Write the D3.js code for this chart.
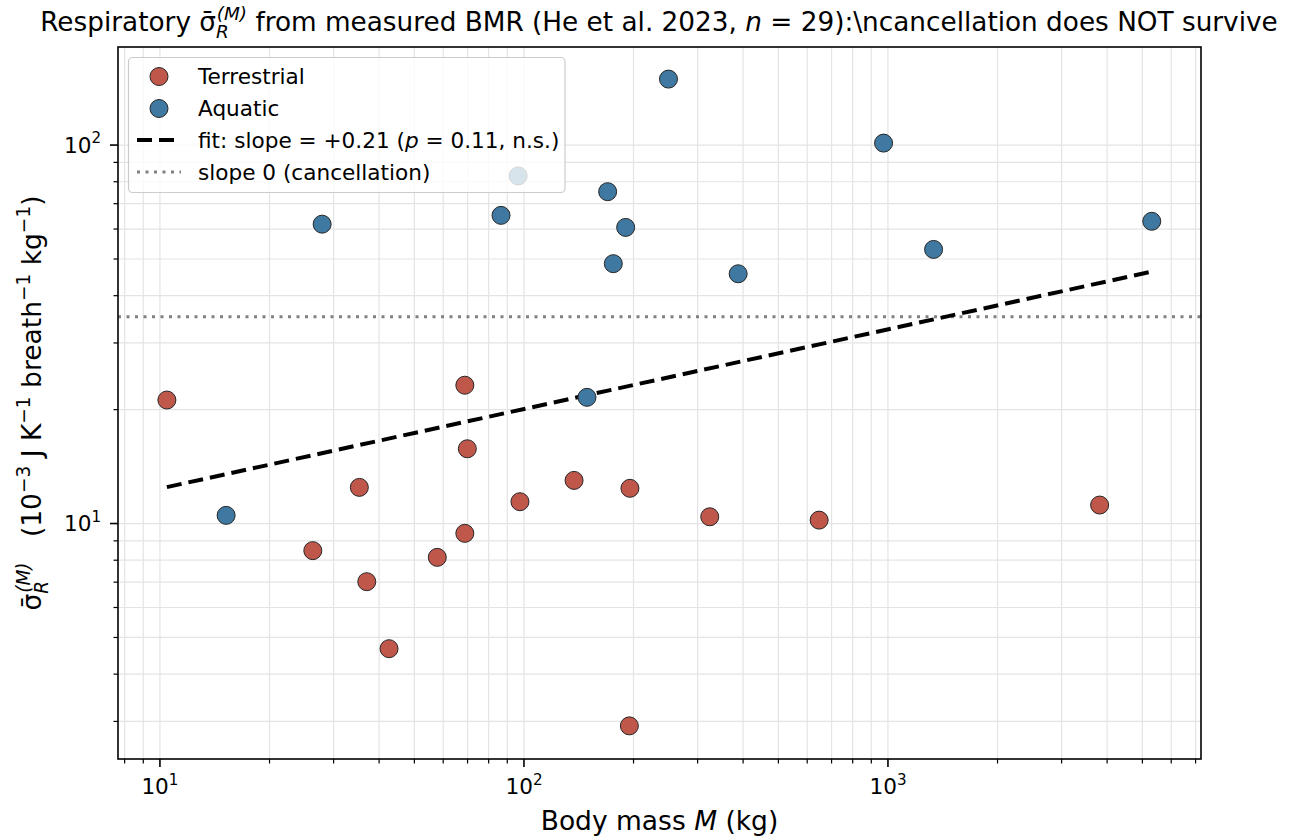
<!DOCTYPE html>
<html>
<head>
<meta charset="utf-8">
<script src="https://cdn.jsdelivr.net/npm/d3@7"></script>
<style>
  body { margin:0; background:#fff; }
  svg { font-family: "DejaVu Sans", sans-serif; }
</style>
</head>
<body>
<svg id="chart" width="1295" height="839"></svg>
<script>
// ---- data ----
var terrMass  = [10.45, 68.8, 69.9, 35.3, 97.5, 26.3, 68.8, 57.8, 37.0, 42.6, 137.3, 195.5, 323.9, 647, 3815, 194.8];
var terrSigma = [21.2, 23.2, 15.76, 12.46, 11.42, 8.48, 9.42, 8.14, 7.02, 4.67, 13.0, 12.39, 10.42, 10.21, 11.19, 2.92];

var aquaMass  = [15.2, 149, 27.9, 86.5, 96.4, 169.8, 176, 190.3, 249.5, 387.7, 972.6, 1334.6, 5305];
var aquaSigma = [10.51, 21.55, 61.8, 65.2, 82.9, 75.3, 48.6, 60.6, 149.4, 45.7, 101.2, 53.0, 62.9];

// fit line end points (log-log, slope +0.21) and slope-0 level
var fitMass  = [10.45, 5305];
var fitSigma = [12.48, 46.3];
var flatSigma = 35.2;

var xMajorTicks = [10, 100, 1000];
var yMajorTicks = [10, 100];

var legendLabels = ['Terrestrial', 'Aquatic'];

var terrColor = '#c0574b';
var aquaColor = '#3f78a0';

// ---- layout ----
var svg = d3.select('#chart');
var pLeft = 118, pRight = 1201, pTop = 47, pBottom = 759;

var x = d3.scaleLog().domain([7.67, 7244]).range([pLeft, pRight]);
var y = d3.scaleLog().domain([2.387, 181.6]).range([pBottom, pTop]);

function isMajor(v){ return Math.abs(Math.log10(v) - Math.round(Math.log10(v))) < 1e-9; }

// grid (both major and minor)
var xAll = x.ticks();
var yAll = y.ticks();

var grid = svg.append('g');
grid.selectAll('.gx').data(xAll).enter().append('line')
  .attr('x1', d=>x(d)).attr('x2', d=>x(d))
  .attr('y1', pTop).attr('y2', pBottom)
  .attr('stroke', '#e4e4e4').attr('stroke-width', 1.2);
grid.selectAll('.gy').data(yAll).enter().append('line')
  .attr('y1', d=>y(d)).attr('y2', d=>y(d))
  .attr('x1', pLeft).attr('x2', pRight)
  .attr('stroke', '#e4e4e4').attr('stroke-width', 1.2);

// slope 0 line
svg.append('line')
  .attr('x1', pLeft).attr('x2', pRight)
  .attr('y1', y(flatSigma)).attr('y2', y(flatSigma))
  .attr('stroke', '#808080').attr('stroke-width', 3)
  .attr('stroke-dasharray', '3,5.5');

// fit line
svg.append('line')
  .attr('x1', x(fitMass[0])).attr('y1', y(fitSigma[0]))
  .attr('x2', x(fitMass[1])).attr('y2', y(fitSigma[1]))
  .attr('stroke', '#000').attr('stroke-width', 4)
  .attr('stroke-dasharray', '15,7');

// points
function drawPoints(mass, sigma, color){
  svg.append('g').selectAll('circle')
    .data(mass.map((m,i)=>({m:m, s:sigma[i]})))
    .enter().append('circle')
    .attr('cx', d=>x(d.m)).attr('cy', d=>y(d.s))
    .attr('r', 9)
    .attr('fill', color)
    .attr('stroke', '#262626').attr('stroke-width', 1);
}
drawPoints(terrMass, terrSigma, terrColor);
drawPoints(aquaMass, aquaSigma, aquaColor);

// frame
svg.append('rect')
  .attr('x', pLeft).attr('y', pTop)
  .attr('width', pRight-pLeft).attr('height', pBottom-pTop)
  .attr('fill', 'none').attr('stroke', '#000').attr('stroke-width', 1.6);

// ticks
var ticks = svg.append('g');
ticks.selectAll('.tx').data(xAll).enter().append('line')
  .attr('x1', d=>x(d)).attr('x2', d=>x(d))
  .attr('y1', pBottom).attr('y2', d=> pBottom + (isMajor(d) ? 8 : 4.5))
  .attr('stroke', '#000').attr('stroke-width', d=> isMajor(d) ? 1.6 : 1.2);
ticks.selectAll('.ty').data(yAll).enter().append('line')
  .attr('y1', d=>y(d)).attr('y2', d=>y(d))
  .attr('x1', pLeft).attr('x2', d=> pLeft - (isMajor(d) ? 8 : 4.5))
  .attr('stroke', '#000').attr('stroke-width', d=> isMajor(d) ? 1.6 : 1.2);

// rich text helper: segments with sub / sup / italic
function rich(sel, segs, base){
  var cur = 0;
  segs.forEach(function(s){
    var shift = s.sub ? 0.28*base : (s.sup ? -0.42*base : 0);
    var t = sel.append('tspan').text(s.t)
      .attr('dy', shift - cur)
      .attr('font-size', (s.sub || s.sup) ? base*0.7 : base);
    if (s.it) t.attr('font-style', 'italic');
    if (s.dx) t.attr('dx', s.dx);
    cur = shift;
  });
}

var tickSize = 21.6;
xMajorTicks.forEach(function(v){
  var t = svg.append('text')
    .attr('x', x(v)).attr('y', 794)
    .attr('text-anchor', 'middle');
  rich(t, [{t:'10'}, {t:String(Math.round(Math.log10(v))), sup:true}], tickSize);
});
yMajorTicks.forEach(function(v){
  var t = svg.append('text')
    .attr('x', 101).attr('y', y(v) + 7.5)
    .attr('text-anchor', 'end');
  rich(t, [{t:'10'}, {t:String(Math.round(Math.log10(v))), sup:true}], tickSize);
});

// title
var title = svg.append('text')
  .attr('x', 659).attr('y', 31)
  .attr('text-anchor', 'middle');
rich(title, [
  {t:'Respiratory σ̄'},
  {t:'R', sub:true, it:true},
  {t:'(M)', sup:true, it:true, dx:-12},
  {t:' from measured BMR (He et al. 2023, '},
  {t:'n', it:true},
  {t:' = 29):\\ncancellation does NOT survive'}
], 26.3);

// x label
var xl = svg.append('text')
  .attr('x', 659.5).attr('y', 830)
  .attr('text-anchor', 'middle');
rich(xl, [{t:'Body mass '}, {t:'M', it:true}, {t:' (kg)'}], 26.5);

// y label
var yl = svg.append('text')
  .attr('transform', 'translate(41,403) rotate(-90)')
  .attr('text-anchor', 'middle');
rich(yl, [
  {t:'σ̄'},
  {t:'R', sub:true, it:true},
  {t:'(M)', sup:true, it:true, dx:-12},
  {t:'\u00a0\u00a0\u00a0(10'},
  {t:'−3', sup:true},
  {t:' J K'},
  {t:'−1', sup:true},
  {t:' breath'},
  {t:'−1', sup:true},
  {t:' kg'},
  {t:'−1', sup:true},
  {t:')'}
], 26.5);

// legend
var lg = svg.append('g');
lg.append('rect')
  .attr('x', 128.5).attr('y', 57.5)
  .attr('width', 436.5).attr('height', 135)
  .attr('rx', 4)
  .attr('fill', '#fff').attr('fill-opacity', 0.8)
  .attr('stroke', '#cccccc').attr('stroke-width', 1.2);

var legSize = 21.6;
var rowY = [76.5, 108.5, 140, 172];
var colors = [terrColor, aquaColor];
legendLabels.forEach(function(l,i){
  lg.append('circle')
    .attr('cx', 159).attr('cy', rowY[i]).attr('r', 9)
    .attr('fill', colors[i]).attr('stroke', '#262626').attr('stroke-width', 1);
  lg.append('text').attr('x', 198).attr('y', rowY[i] + 7.5)
    .attr('font-size', legSize).text(l);
});
lg.append('line')
  .attr('x1', 137).attr('x2', 181).attr('y1', rowY[2]).attr('y2', rowY[2])
  .attr('stroke', '#000').attr('stroke-width', 4).attr('stroke-dasharray', '15,7');
var ft = lg.append('text').attr('x', 198).attr('y', rowY[2] + 7.5);
rich(ft, [{t:'fit: slope = +0.21 ('}, {t:'p', it:true}, {t:' = 0.11, n.s.)'}], legSize);
lg.append('line')
  .attr('x1', 137).attr('x2', 181).attr('y1', rowY[3]).attr('y2', rowY[3])
  .attr('stroke', '#808080').attr('stroke-width', 3).attr('stroke-dasharray', '3,5.5');
lg.append('text').attr('x', 198).attr('y', rowY[3] + 7.5)
  .attr('font-size', legSize).text('slope 0 (cancellation)');
</script>
</body>
</html>
